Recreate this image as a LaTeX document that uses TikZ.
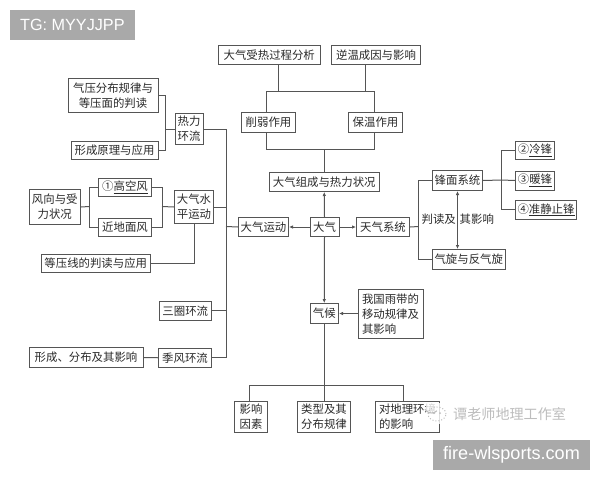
\documentclass[tikz,border=0pt]{standalone}
\usepackage{fontspec}
\setmainfont{Noto Sans CJK SC}
\newfontfamily\latinfont{Liberation Sans}
\usetikzlibrary{arrows.meta}
\definecolor{ln}{HTML}{555555}
\definecolor{tagbg}{HTML}{A9A9A9}
\definecolor{wm}{HTML}{BDBDBD}
\definecolor{tx}{HTML}{2A2A2A}
\tikzset{
  x=1pt,y=-1pt,
  box/.style={draw=ln,line width=1pt,fill=white,inner sep=0pt,font=\fontsize{11.4}{15}\selectfont,text=tx,align=center},
  conn/.style={draw=ln,line width=1pt},
  arr/.style={conn,-{Latex[length=4pt,width=3.5pt]}},
  tag/.style={fill=tagbg,text=white,inner sep=0pt},
  lab/.style={inner sep=0pt,font=\fontsize{11.4}{13}\selectfont,text=tx},
}
\newcommand{\bx}[6]{\node[box,minimum width=#4pt-#2pt,minimum height=#5pt-#3pt,anchor=north west] (#1) at (#2,#3) {#6};}
\begin{document}
\begin{tikzpicture}
\useasboundingbox (0,0) rectangle (600,480);
\fill[white] (0,0) rectangle (600,480);
% junction coordinates
\coordinate (tr) at (165.5,129);
\coordinate (bus) at (226,226.5);
\coordinate (wl) at (89,206.5);
\coordinate (wr) at (162,206.5);
\coordinate (wx) at (418.5,226.5);
\coordinate (fr) at (501.5,180);
% connectors drawn first (boxes lie on top)
\draw[conn] (278,64) -- (278,91);
\draw[conn] (365,64) -- (365,91);
\draw[conn] (266,149) -- (266,91) -- (374,91) -- (374,149) -- cycle;
\draw[conn] (324,149) -- (324,172);
\bx{a1}{218}{45}{319.5}{64}{大气受热过程分析}
\bx{a2}{331}{45}{420}{64}{逆温成因与影响}
\bx{a3}{241}{112}{295}{132}{削弱作用}
\bx{a4}{348}{112}{402}{132}{保温作用}
\bx{c0}{269}{172}{378.5}{191}{大气组成与热力状况}
\bx{c}{309.5}{217}{338.5}{236}{大气}
\bx{m}{238}{217}{288}{236}{大气运动}
\bx{w}{356}{217}{409}{236}{天气系统}
\bx{q}{309.5}{303}{338}{323}{气候}
\bx{y}{358}{289}{423}{338}{\parbox{58pt}{我国雨带的\\移动规律及\\其影响}}
\bx{f1}{234}{401}{267}{432}{影响\\因素}
\bx{f2}{297}{401}{350}{432}{类型及其\\分布规律}
\bx{f3}{375}{401}{439}{432}{\parbox{57pt}{对地理环境\\的影响}}
\bx{l1}{67.5}{77.5}{157.5}{112}{气压分布规律与\\等压面的判读}
\bx{l2}{70.5}{140.5}{157.5}{159}{形成原理与应用}
\bx{l3}{174.5}{113}{202.5}{144}{热力\\环流}
\bx{h}{174}{190}{213}{223}{大气水\\平运动}
\bx{g1}{98}{177.5}{151}{196}{①\underline{高空风}}
\bx{g2}{98}{217.5}{151}{236}{近地面风}
\bx{fx}{28.5}{189}{80}{224}{风向与受\\力状况}
\bx{dy}{40.5}{253.5}{150}{272}{等压线的判读与应用}
\bx{sq}{158.5}{300.5}{211}{320}{三圈环流}
\bx{jf}{158}{347.5}{211}{367}{季风环流}
\bx{xc}{28.5}{347}{142.5}{367}{形成、分布及其影响}
\bx{fm}{432}{170}{482}{190}{锋面系统}
\bx{qx}{432}{249}{504.5}{269}{气旋与反气旋}
\bx{r1}{515}{140.5}{554}{159}{②\underline{冷锋}}
\bx{r2}{515}{170.5}{554}{189.5}{③\underline{暖锋}}
\bx{r3}{515}{200}{576}{218.5}{④\underline{准静止锋}}
% central arrows
\draw[arr] (c.north) -- (c0.south);
\draw[arr] (c.west) -- (m.east);
\draw[arr] (c.east) -- (w.west);
\draw[arr] (c.south) -- (q.north);
\draw[arr] (y.west |- q.east) -- (q.east);
% left tree
\draw[conn] (l1.east) -| (tr);
\draw[conn] (l2.east) -| (tr);
\draw[conn] (tr) -- (l3.west);
\draw[conn] (l3.east) -| (bus);
\draw[conn] (jf.east) -| (bus);
\draw[conn] (sq.east) -- (sq.east -| bus);
\draw[conn] (h.east) -- (h.east -| bus);
\draw[conn] (bus) -- (m.west);
\draw[conn] (fx.east) -- (wl);
\draw[conn] (g1.west) -| (wl);
\draw[conn] (g2.west) -| (wl);
\draw[conn] (g1.east) -| (wr);
\draw[conn] (g2.east) -| (wr);
\draw[conn] (wr) -- (h.west);
\draw[conn] (dy.east) -| (h.south);
\draw[conn] (xc.east) -- (jf.west);
% right tree
\draw[conn] (w.east) -- (wx);
\draw[conn] (fm.west) -| (wx);
\draw[conn] (qx.west) -| (wx);
\draw[conn] (fm.east) -- (fr);
\draw[conn] (r1.west) -| (fr);
\draw[conn] (r3.west) -| (fr);
\draw[conn] (r2.west) -- (fr);
\draw[conn,{Latex[length=4pt,width=3.5pt]}-{Latex[length=4pt,width=3.5pt]}] (fm.south) -- (fm.south |- qx.north);
\node[lab,anchor=east] (t1) at (456,219.5) {判读及};
\node[lab,anchor=west] (t2) at (459.5,219.5) {其影响};
% bottom tree
\draw[conn] (q.south) -- (q.south |- f2.north);
\draw[conn] (249.5,401) -- (249.5,385) -- (403,385) -- (403,401);
% watermark
\fill[white,opacity=.8] (426,403) rectangle (452,424);
\draw[wm,line width=1pt,dotted] (437,414) ellipse (9pt and 7pt);
\draw[wm,line width=1.1pt] (425,409) arc (200:320:7pt and 6pt);
\fill[wm] (434,413) circle (1pt) (440,413) circle (1pt);
\node[inner sep=0pt,anchor=west,font=\fontsize{14.1}{15}\selectfont,text=wm] (wmt) at (453,414.5) {谭老师地理工作室};
% tags
\node[tag,minimum width=125pt,minimum height=30pt,anchor=north west] (tg) at (10,10) {};
\node[inner sep=0pt,anchor=west,text=white,font=\latinfont\fontsize{16.2}{18}\selectfont] (tgt) at (20,25) {TG: MYYJJPP};
\node[tag,minimum width=157pt,minimum height=30pt,anchor=north west] (fw) at (433,440) {};
\node[inner sep=0pt,text=white,font=\latinfont\fontsize{18.1}{20}\selectfont] (fwt) at (511.5,454.5) {fire-wlsports.com};
\end{tikzpicture}
\end{document}
